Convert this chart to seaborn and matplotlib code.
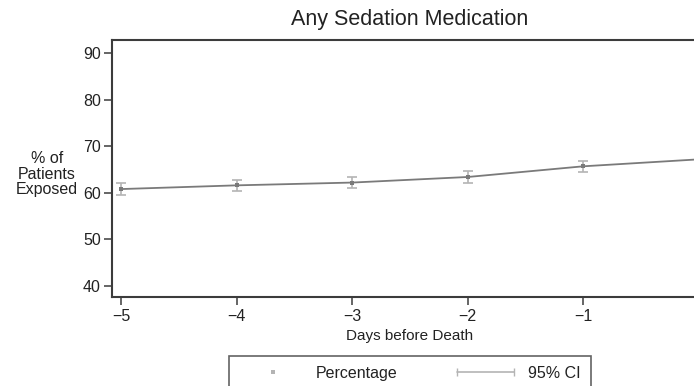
import matplotlib
matplotlib.use("Agg")
import matplotlib.pyplot as plt
from matplotlib.lines import Line2D
from matplotlib.legend_handler import HandlerLine2D
import seaborn as sns
import pandas as pd

# data
days = [-5, -4, -3, -2, -1, 0]
pct = [60.8, 61.6, 62.2, 63.4, 65.7, 67.2]
ci_low = [59.6, 60.4, 61.0, 62.2, 64.5, 66.0]
ci_high = [62.0, 62.8, 63.4, 64.6, 66.9, 68.4]

title = "Any Sedation Medication"
xlabel = "Days before Death"
ylabel = "% of\nPatients\nExposed"
yticks = [40, 50, 60, 70, 80, 90]
xticks = [-5, -4, -3, -2, -1]

df = pd.DataFrame({"days": days, "pct": pct, "lo": ci_low, "hi": ci_high})

sns.set_style("white")
plt.rcParams['font.family'] = ['Liberation Sans', 'DejaVu Sans']

fig = plt.figure(figsize=(6.94, 3.86), dpi=100)
ax = fig.add_axes([0.1614, 0.2306, 0.8588, 0.6658])

line_col = '#7a7a7a'
ci_col = '#b4b4b4'
spine_col = '#3c3c3c'
text_col = '#222222'

# 95% CI error bars
ax.errorbar(df['days'], df['pct'],
            yerr=[df['pct'] - df['lo'], df['hi'] - df['pct']],
            fmt='none', ecolor=ci_col, elinewidth=1.2, capsize=3.5, capthick=1.2, zorder=2)

sns.lineplot(x='days', y='pct', data=df, color=line_col, linewidth=1.3,
             marker='s', markersize=2.5, markeredgewidth=0, errorbar=None, ax=ax, zorder=3)

ax.set_xlim(-5.08, 0.08)
ax.set_ylim(37.56, 92.9)
ax.set_xticks(xticks)
ax.set_yticks(yticks)

for side in ['left', 'bottom', 'top']:
    ax.spines[side].set_color(spine_col)
    ax.spines[side].set_linewidth(1.5)
ax.spines['right'].set_visible(False)

ax.tick_params(axis='both', which='major', bottom=True, left=True, direction='out',
               length=6, width=1.1, color=spine_col, labelsize=11.5, labelcolor=text_col)
ax.tick_params(axis='y', pad=2)
ax.tick_params(axis='x', pad=3)
ax.grid(False)

ax.set_xlabel(xlabel, fontsize=11, color=text_col, labelpad=3)
ax.set_ylabel("")
fig.text(47 / 694, 1 - 174 / 386, ylabel, ha='center', va='center', fontsize=11.5,
         color=text_col, linespacing=1.05)
fig.text(410 / 694, 1 - 20 / 386, title, ha='center', va='center', fontsize=15.5, color=text_col)

# Stata style legend below the plot
h_pct = Line2D([], [], color=ci_col, linestyle='none', marker='s', markersize=2.5, markeredgewidth=0)
h_ci = Line2D([], [], color=ci_col, linewidth=1.2, marker='|', markersize=6, markeredgewidth=1)
leg = fig.legend([h_pct, h_ci], ['Percentage', '95% CI'], ncol=2,
                 loc='upper center', bbox_to_anchor=(410 / 694, 1 - 348 / 386),
                 frameon=True, fancybox=False, fontsize=11.5, handlelength=4.2,
                 handletextpad=0.6, columnspacing=3.4, borderpad=0.6,
                 handler_map={h_pct: HandlerLine2D(numpoints=1), h_ci: HandlerLine2D(numpoints=2)})
leg.get_frame().set_edgecolor(spine_col)
leg.get_frame().set_linewidth(1.2)
leg.get_frame().set_facecolor('white')
for t in leg.get_texts():
    t.set_color(text_col)

fig.savefig("out.png", dpi=100)
